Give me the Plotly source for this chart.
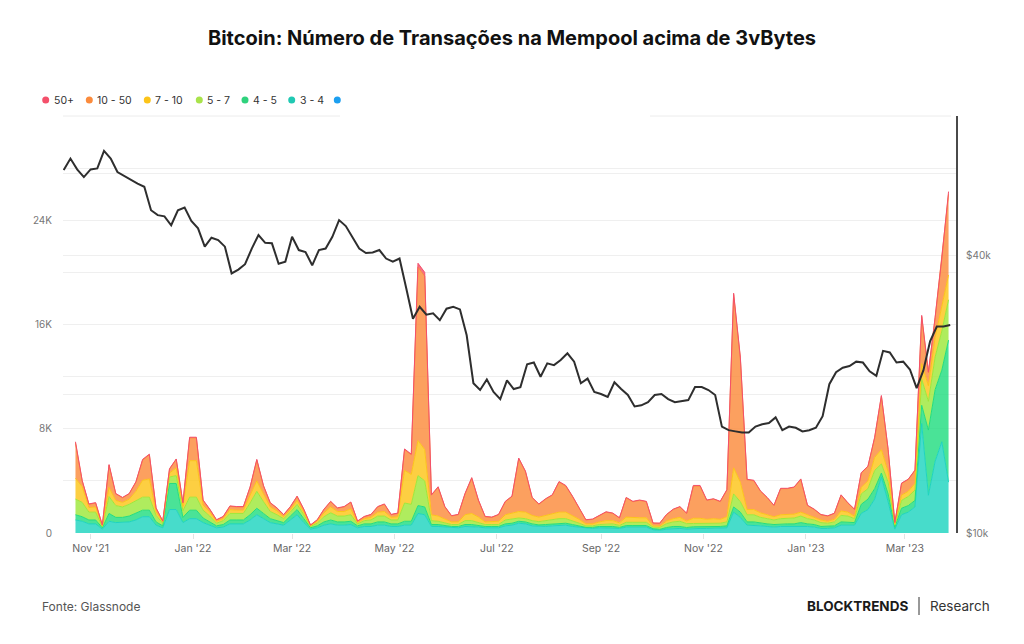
import pandas as pd
import plotly.graph_objects as go

# ---------------- data (values in thousands) ----------------
area_start = "2021-10-23"      # one sample every 4 days
price_start = "2021-10-16"     # one sample every 4 days

tx_3_4 = [1.0, 0.9, 0.7, 0.7, 0.3, 0.9, 0.8, 0.8, 0.85, 1.0,
          1.25, 1.25, 0.6, 0.4, 1.8, 1.8, 0.8, 1.1, 1.1, 0.8,
          0.6, 0.4, 0.45, 0.7, 0.7, 0.7, 1.0, 1.4, 1.1, 0.8,
          0.7, 0.6, 1.0, 1.4, 0.8, 0.3, 0.4, 0.6, 0.7, 0.6,
          0.6, 0.65, 0.4, 0.5, 0.5, 0.6, 0.6, 0.5, 0.5, 0.6,
          0.6, 1.5, 1.4, 0.5, 0.5, 0.45, 0.4, 0.4, 0.5, 0.5,
          0.45, 0.4, 0.4, 0.4, 0.55, 0.6, 0.75, 0.7, 0.55, 0.5,
          0.5, 0.55, 0.6, 0.6, 0.5, 0.45, 0.35, 0.35, 0.4, 0.4,
          0.4, 0.35, 0.45, 0.45, 0.45, 0.45, 0.25, 0.2, 0.3, 0.35,
          0.35, 0.3, 0.35, 0.35, 0.35, 0.35, 0.35, 0.4, 1.6, 1.2,
          0.6, 0.6, 0.55, 0.5, 0.45, 0.5, 0.5, 0.5, 0.55, 0.5,
          0.45, 0.35, 0.35, 0.4, 0.6, 0.6, 0.6, 1.5, 1.8, 2.6,
          4.3, 2.4, 0.3, 1.4, 1.6, 2.0, 8.4, 2.9, 5.5, 7.0,
          3.9]
tx_4_5 = [0.4, 0.35, 0.3, 0.3, 0.1, 0.6, 0.4, 0.4, 0.45, 0.5,
          0.5, 0.5, 0.25, 0.15, 2.0, 2.0, 0.4, 0.65, 0.65, 0.35,
          0.25, 0.15, 0.2, 0.3, 0.3, 0.3, 0.4, 0.5, 0.4, 0.3,
          0.25, 0.2, 0.3, 0.4, 0.3, 0.1, 0.15, 0.25, 0.3, 0.25,
          0.25, 0.25, 0.15, 0.2, 0.2, 0.25, 0.25, 0.2, 0.2, 0.3,
          0.3, 0.6, 0.6, 0.15, 0.15, 0.1, 0.1, 0.1, 0.15, 0.15,
          0.12, 0.1, 0.1, 0.1, 0.15, 0.15, 0.15, 0.15, 0.15, 0.12,
          0.15, 0.15, 0.15, 0.15, 0.15, 0.1, 0.08, 0.08, 0.1, 0.1,
          0.1, 0.08, 0.12, 0.12, 0.12, 0.12, 0.08, 0.08, 0.12, 0.15,
          0.15, 0.12, 0.13, 0.13, 0.15, 0.15, 0.15, 0.15, 0.4, 0.4,
          0.25, 0.25, 0.2, 0.2, 0.2, 0.2, 0.2, 0.2, 0.25, 0.2,
          0.2, 0.15, 0.15, 0.15, 0.25, 0.25, 0.2, 0.7, 0.8, 0.8,
          0.3, 0.6, 0.15, 0.5, 0.5, 0.5, 1.4, 5.0, 5.5, 5.5,
          10.9]
tx_5_7 = [1.2, 1.1, 0.6, 0.6, 0.1, 1.3, 0.9, 0.8, 0.9, 1.0,
          1.0, 1.0, 0.5, 0.2, 0.5, 0.6, 0.5, 1.0, 1.0, 0.6,
          0.45, 0.2, 0.3, 0.5, 0.5, 0.5, 0.9, 1.3, 0.9, 0.55,
          0.45, 0.3, 0.3, 0.4, 0.3, 0.1, 0.2, 0.4, 0.55, 0.45,
          0.45, 0.5, 0.15, 0.25, 0.3, 0.45, 0.45, 0.3, 0.3, 1.4,
          1.3, 2.3, 2.0, 0.3, 0.25, 0.2, 0.15, 0.15, 0.3, 0.3,
          0.25, 0.15, 0.15, 0.15, 0.3, 0.3, 0.25, 0.25, 0.25, 0.25,
          0.3, 0.3, 0.35, 0.35, 0.3, 0.2, 0.12, 0.12, 0.15, 0.2,
          0.2, 0.15, 0.25, 0.25, 0.25, 0.25, 0.12, 0.15, 0.3, 0.35,
          0.4, 0.3, 0.25, 0.25, 0.25, 0.25, 0.25, 0.3, 1.0, 0.8,
          0.55, 0.55, 0.45, 0.4, 0.35, 0.4, 0.4, 0.45, 0.5, 0.4,
          0.35, 0.3, 0.25, 0.3, 0.5, 0.45, 0.3, 0.8, 0.8, 1.4,
          0.7, 0.9, 0.15, 0.6, 0.7, 0.8, 2.0, 2.2, 2.5, 3.0,
          3.1]
tx_7_10 = [1.6, 1.2, 0.35, 0.4, 0.05, 0.7, 0.4, 0.35, 0.4, 0.7,
           1.3, 1.4, 0.3, 0.1, 0.3, 0.6, 0.35, 2.8, 2.8, 0.4,
           0.3, 0.15, 0.15, 0.3, 0.25, 0.25, 0.6, 0.8, 0.6, 0.35,
           0.3, 0.15, 0.2, 0.3, 0.2, 0.05, 0.15, 0.3, 0.45, 0.35,
           0.35, 0.45, 0.1, 0.15, 0.2, 0.3, 0.35, 0.2, 0.25, 2.5,
           2.3, 2.7, 2.4, 0.45, 0.4, 0.3, 0.2, 0.2, 0.45, 0.55,
           0.4, 0.2, 0.2, 0.25, 0.4, 0.45, 0.5, 0.5, 0.4, 0.35,
           0.4, 0.45, 0.5, 0.5, 0.4, 0.3, 0.15, 0.15, 0.2, 0.25,
           0.25, 0.2, 0.4, 0.35, 0.35, 0.35, 0.1, 0.1, 0.2, 0.25,
           0.3, 0.2, 0.4, 0.4, 0.3, 0.35, 0.3, 0.4, 2.0, 1.5,
           0.4, 0.4, 0.35, 0.3, 0.25, 0.3, 0.3, 0.3, 0.3, 0.3,
           0.25, 0.2, 0.15, 0.2, 0.35, 0.3, 0.2, 0.5, 0.6, 1.0,
           1.1, 0.8, 0.1, 0.4, 0.4, 0.5, 1.2, 1.2, 1.5, 2.0,
           1.9]
tx_10_50 = [2.7, 0.45, 0.25, 0.3, 0.05, 1.7, 0.5, 0.35, 0.4, 0.7,
            1.55, 1.85, 0.25, 0.05, 0.3, 0.65, 0.25, 1.75, 1.75, 0.35,
            0.2, 0.1, 0.15, 0.25, 0.25, 0.25, 0.6, 1.6, 0.6, 0.3,
            0.2, 0.15, 0.2, 0.3, 0.2, 0.05, 0.1, 0.25, 0.4, 0.25,
            0.35, 0.5, 0.1, 0.15, 0.2, 0.4, 0.55, 0.2, 0.25, 1.6,
            1.5, 13.3, 13.3, 1.5, 2.2, 0.95, 0.45, 0.55, 1.6, 2.7,
            1.28, 0.4, 0.35, 0.5, 1.0, 1.3, 4.05, 3.1, 1.35, 0.98,
            1.25, 1.45, 2.3, 2.0, 1.45, 0.85, 0.3, 0.35, 0.45, 0.65,
            0.55, 0.37, 1.48, 1.23, 1.33, 1.23, 0.2, 0.21, 0.48, 0.7,
            0.8, 0.58, 2.47, 2.47, 1.45, 1.5, 1.35, 2.05, 13.3, 9.5,
            2.27, 2.2, 1.65, 1.3, 0.85, 2.0, 2.0, 2.05, 2.5, 0.7,
            0.55, 0.4, 0.4, 0.45, 1.2, 0.7, 0.5, 1.1, 1.1, 1.5,
            4.1, 1.7, 0.1, 0.9, 0.9, 1.0, 3.6, 1.0, 1.5, 3.5,
            6.2]
tx_50_plus = [0.1, 0.03, 0.03, 0.03, 0.02, 0.05, 0.03, 0.03, 0.03, 0.03,
              0.05, 0.05, 0.03, 0.02, 0.03, 0.03, 0.03, 0.05, 0.05, 0.03,
              0.03, 0.02, 0.02, 0.03, 0.03, 0.03, 0.03, 0.05, 0.03, 0.03,
              0.03, 0.02, 0.03, 0.03, 0.03, 0.02, 0.02, 0.03, 0.03, 0.03,
              0.03, 0.03, 0.02, 0.02, 0.03, 0.03, 0.03, 0.03, 0.03, 0.05,
              0.05, 0.3, 0.3, 0.03, 0.05, 0.03, 0.03, 0.03, 0.03, 0.05,
              0.03, 0.02, 0.02, 0.03, 0.03, 0.03, 0.05, 0.05, 0.03, 0.03,
              0.03, 0.03, 0.05, 0.05, 0.03, 0.03, 0.02, 0.02, 0.02, 0.03,
              0.03, 0.02, 0.03, 0.03, 0.03, 0.03, 0.02, 0.02, 0.02, 0.03,
              0.03, 0.02, 0.05, 0.05, 0.03, 0.03, 0.03, 0.03, 0.1, 0.1,
              0.05, 0.05, 0.03, 0.03, 0.03, 0.03, 0.03, 0.03, 0.05, 0.03,
              0.03, 0.02, 0.02, 0.02, 0.03, 0.03, 0.03, 0.03, 0.03, 0.05,
              0.05, 0.03, 0.02, 0.03, 0.03, 0.03, 0.1, 0.05, 0.05, 0.1,
              0.2]

btc_price_k = [61.1, 64.7, 61.3, 59.0, 61.3, 61.6, 67.2, 64.7, 60.5, 59.3,
               58.3, 57.1, 56.2, 50.0, 48.8, 48.5, 46.4, 50.0, 50.7, 47.4,
               45.7, 41.7, 43.6, 43.1, 41.7, 36.5, 37.2, 38.2, 41.3, 44.2,
               42.5, 42.4, 38.3, 38.7, 43.8, 41.0, 40.6, 38.0, 41.0, 41.3,
               43.8, 47.6, 46.2, 43.8, 41.3, 40.4, 40.5, 41.0, 39.3, 38.7,
               39.3, 33.9, 29.1, 30.9, 29.7, 29.9, 28.9, 30.6, 30.9, 30.5,
               26.8, 21.1, 20.4, 21.5, 20.2, 19.5, 21.4, 20.5, 20.7, 23.2,
               23.4, 21.8, 23.3, 23.1, 23.7, 24.5, 23.5, 21.1, 21.6, 20.2,
               20.0, 19.7, 21.2, 20.5, 19.9, 18.8, 18.9, 19.2, 19.9, 20.0,
               19.5, 19.2, 19.3, 19.4, 20.7, 20.7, 20.4, 19.9, 17.0, 16.7,
               16.6, 16.5, 16.5, 17.0, 17.2, 17.3, 17.8, 16.7, 17.0, 16.9,
               16.6, 16.7, 16.9, 17.9, 21.0, 22.3, 22.8, 23.0, 23.5, 23.4,
               22.4, 21.9, 24.8, 24.6, 23.4, 23.5, 22.6, 20.6, 22.5, 26.0,
               28.0, 28.0, 28.2]

series_names = ["3 - 4", "4 - 5", "5 - 7", "7 - 10", "10 - 50", "50+"]
series_values = [tx_3_4, tx_4_5, tx_5_7, tx_7_10, tx_10_50, tx_50_plus]
series_colors = ["#1ed4c0", "#22dd80", "#9ee83a", "#fcc419", "#fb8b3c", "#f4506b"]
legend_names = ["50+", "10 - 50", "7 - 10", "5 - 7", "4 - 5", "3 - 4", ""]
legend_colors = ["#f4506b", "#fb8b3c", "#fcc419", "#a9e34b", "#2fd27d", "#20c9b3", "#1c9ff0"]

left_tickvals = [0, 4, 8, 12, 16, 20, 24, 28]
left_ticktext = ["0", "", "8K", "", "16K", "", "24K", ""]
right_tickvals = [10, 20, 40, 60]
right_ticktext = ["$10k", "", "$40k", ""]

area_dates = pd.date_range(area_start, periods=len(tx_3_4), freq="4D")
price_dates = pd.date_range(price_start, periods=len(btc_price_k), freq="4D")

# ---------------- layout helpers ----------------
W, H = 1024, 644
L, R, T, B = 63, 956, 116, 533


def px(x):
    return (x - L) / (R - L)


def py(y):
    return (B - y) / (B - T)


def rgba(hexc, a):
    h = hexc.lstrip("#")
    return "rgba(%d,%d,%d,%.2f)" % (int(h[0:2], 16), int(h[2:4], 16), int(h[4:6], 16), a)


fig = go.Figure()
for name, vals, col in zip(series_names, series_values, series_colors):
    fig.add_trace(go.Scatter(
        x=area_dates, y=vals, name=name, mode="lines", stackgroup="tx",
        line=dict(width=1, color=col), fillcolor=rgba(col, 0.82),
        showlegend=False, hoverinfo="skip"))

fig.add_trace(go.Scatter(
    x=price_dates, y=btc_price_k, name="BTC", mode="lines", yaxis="y2",
    line=dict(width=2, color="#2e2e2e"), showlegend=False, hoverinfo="skip"))

shapes = []
annotations = []

# top grid line (partially visible in the reference)
for x0, x1 in [(63, 340), (650, 951)]:
    shapes.append(dict(type="line", xref="paper", yref="paper", x0=px(x0), x1=px(x1),
                       y0=1, y1=1, line=dict(color="#ececec", width=1), layer="below"))

# custom legend
legend_x = [45.7, 89.3, 147.3, 199.3, 245.0, 291.7, 337.3]
for lx, name, col in zip(legend_x, legend_names, legend_colors):
    r = 3.5
    shapes.append(dict(type="circle", xref="paper", yref="paper",
                       x0=px(lx - r), x1=px(lx + r), y0=py(100 + r), y1=py(100 - r),
                       fillcolor=col, line=dict(width=0)))
    if name:
        annotations.append(dict(text=name, xref="paper", yref="paper", x=px(lx + 6), y=py(100),
                                xanchor="left", yanchor="middle", showarrow=False,
                                font=dict(family="Inter", size=10.5, color="#333333")))

# footer
annotations.append(dict(text="Fonte: Glassnode", xref="paper", yref="paper", x=px(40), y=py(606),
                        xanchor="left", yanchor="middle", showarrow=False,
                        font=dict(family="Inter", size=12, color="#555555")))
annotations.append(dict(text="<b>BLOCKTRENDS</b>", xref="paper", yref="paper", x=px(910), y=py(606),
                        xanchor="right", yanchor="middle", showarrow=False,
                        font=dict(family="Inter", size=13.5, color="#1a1a1a")))
annotations.append(dict(text="Research", xref="paper", yref="paper", x=px(928), y=py(606),
                        xanchor="left", yanchor="middle", showarrow=False,
                        font=dict(family="Inter", size=13.5, color="#333333")))
shapes.append(dict(type="line", xref="paper", yref="paper", x0=px(919), x1=px(919),
                   y0=py(597), y1=py(615), line=dict(color="#333333", width=1)))

fig.update_layout(
    width=W, height=H,
    margin=dict(l=L, r=W - R, t=T, b=H - B, pad=0),
    paper_bgcolor="white", plot_bgcolor="white",
    title=dict(text="<b>Bitcoin: Número de Transações na Mempool acima de 3vBytes</b>",
               x=0.5, xref="container", xanchor="center",
               y=1 - 38 / H, yref="container", yanchor="middle",
               font=dict(family="Inter", size=20, color="#111111")),
    xaxis=dict(type="date", range=["2021-10-15 13:40", "2023-03-31 10:30"],
               tick0="2021-11-01", dtick="M2", tickformat="%b '%y",
               showgrid=False, zeroline=False, showline=False,
               ticks="outside", ticklen=5, tickcolor="#e3e3e3",
               tickfont=dict(family="Inter", size=10.5, color="#666666")),
    yaxis=dict(range=[0, 32], tickvals=left_tickvals, ticktext=left_ticktext,
               showgrid=True, gridcolor="#efefef", gridwidth=1, zeroline=False,
               showline=False, ticks="", ticklabelstandoff=10,
               tickfont=dict(family="Inter", size=10, color="#777777")),
    yaxis2=dict(type="log", range=[1, 1.90309], overlaying="y", side="right",
                tickvals=right_tickvals, ticktext=right_ticktext,
                showgrid=True, gridcolor="#efefef", gridwidth=1, zeroline=False,
                showline=True, linecolor="#4a4a4a", linewidth=2, ticks="",
                ticklabelstandoff=6,
                tickfont=dict(family="Inter", size=10, color="#777777")),
    shapes=shapes, annotations=annotations,
    showlegend=False,
)

fig.write_html("out.html")
